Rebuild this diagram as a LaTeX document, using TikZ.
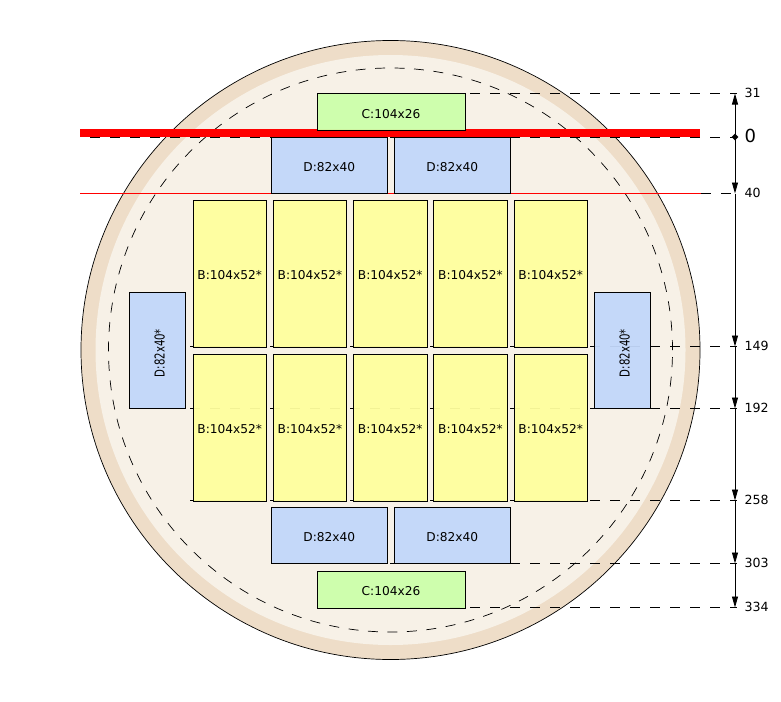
\documentclass[tikz,border=0pt]{standalone}
\usepackage{fontspec}
\setmainfont{DejaVu Sans}
\usetikzlibrary{positioning,arrows.meta,shapes.geometric}
\definecolor{rimtan}{HTML}{EEDDC8}
\definecolor{wafer}{HTML}{F7F1E7}
\definecolor{dblue}{HTML}{C2D7FA}
\definecolor{byellow}{HTML}{FFFF9E}
\definecolor{cgreen}{HTML}{CCFFAA}

\begin{document}
\begin{tikzpicture}[x=1pt,y=-1pt,node distance=6.75pt]
   \tikzset{chip/.style = {rectangle, draw=black, line width=.9pt, inner sep=0pt, outer sep=0pt, fill opacity=.95, text opacity=1, text height=12.8pt, text depth=0pt, font=\fontsize{12.2}{14}\selectfont}, }
   \tikzset{bchip/.style = {chip, fill=byellow, minimum width=73.5pt, minimum height=147pt}, }
   \tikzset{dchip/.style = {chip, fill=dblue, minimum width=116.5pt, minimum height=56pt}, }
   \tikzset{cchip/.style = {chip, fill=cgreen, minimum width=148pt, minimum height=37pt}, }
   \tikzset{schip/.style = {chip, fill=dblue, minimum width=56.5pt, minimum height=116pt, text height=54pt}, }
   \tikzset{disc/.style = {circle, inner sep=0pt, outer sep=0pt}, }
   \tikzset{level/.style = {draw=black, line width=.8pt, dash pattern=on 10pt off 10pt}, }
   \tikzset{dim/.style = {draw=black, line width=.9pt, -{Triangle[length=11pt,width=6pt]}}, }
   \tikzset{dimlabel/.style = {inner sep=0pt, right=9.5pt of #1, yshift=.7pt, font=\fontsize{12.6}{14}\selectfont}, }
   \useasboundingbox (0,0) rectangle (781,701);

   % wafer
   \node[disc, draw=black, line width=.7pt, fill=rimtan, minimum size=619pt] (rim) at (390.5,350) {};
   \node[disc, fill=wafer, minimum size=590pt] (inner) at (390.5,350) {};
   \node[disc, draw=black, line width=.7pt, dash pattern=on 10pt off 9.5pt, minimum size=564pt] (usable) at (390.5,350) {};

   % dimension ticks
   \coordinate (t31) at (735,93.5);
   \coordinate (t0) at (735,137);
   \coordinate (t40) at (735,193.5);
   \coordinate (t149) at (735,346.5);
   \coordinate (t192) at (735,408.5);
   \coordinate (t258) at (735,500.5);
   \coordinate (t303) at (735,563.5);
   \coordinate (t334) at (735,607.5);

   % free ends of the levels
   \coordinate (s31) at (390,93.5);
   \coordinate (s0) at (90,137);
   \coordinate (s40) at (701,193.5);
   \coordinate (s149) at (190,346.5);
   \coordinate (s192) at (190,408.5);
   \coordinate (s258) at (190,500.5);
   \coordinate (s303) at (390,563.5);
   \coordinate (s334) at (390,607.5);
   \coordinate (e31) at (737,93.5);
   \coordinate (e0) at (737,137);
   \coordinate (e40) at (737,193.5);
   \coordinate (e149) at (737,346.5);
   \coordinate (e192) at (737,408.5);
   \coordinate (e258) at (737,500.5);
   \coordinate (e303) at (737,563.5);
   \coordinate (e334) at (737,607.5);
   \foreach \l in {31,0,40,149,192,258,303,334}
     \draw[level] (s\l) -- (e\l);

   % cut lines
   \coordinate (cutAw) at (80,133);
   \coordinate (cutAe) at (700,133);
   \coordinate (cutBw) at (80,193.5);
   \coordinate (cutBe) at (701,193.5);
   \draw[color=red, line width=8pt] (cutAw) -- (cutAe);
   \draw[color=red, line width=.7pt] (cutBw) -- (cutBe);

   % chips
   \node[cchip] (c1) at (391,112) {C:104x26};
   \node[dchip] (d1) at (329.25,165) {D:82x40};
   \node[dchip, right =6.5pt of d1] (d2) {D:82x40};
   \node[bchip] (b1) at (229.75,273.5) {B:104x52*};
   \foreach \i/\j in {1/2,2/3,3/4,4/5}
     \node[bchip, right =of b\i] (b\j) {B:104x52*};
   \node[bchip] (b6) at (229.75,427.5) {B:104x52*};
   \foreach \i/\j in {6/7,7/8,8/9,9/10}
     \node[bchip, right =of b\i] (b\j) {B:104x52*};
   \node[dchip] (d3) at (329.25,535) {D:82x40};
   \node[dchip, right =6.5pt of d3] (d4) {D:82x40};
   \node[cchip] (c2) at (391,589.5) {C:104x26};
   \node[schip] (s1) at (157.25,350) {\hspace{5pt}\rotatebox{90}{\scalebox{.83}[1.12]{D:82x40*}}};
   \node[schip] (s2) at (622.25,350) {\hspace{5pt}\rotatebox{90}{\scalebox{.83}[1.12]{D:82x40*}}};

   % dimension line
   \node[diamond, fill=black, inner sep=0pt, minimum size=7pt] (t0dot) at (t0) {};
   \draw[dim] (t0) -- (t31);
   \draw[dim] (t0) -- (t40);
   \draw[dim] (t40) -- (t149);
   \draw[dim] (t149) -- (t192);
   \draw[dim] (t192) -- (t258);
   \draw[dim] (t258) -- (t303);
   \draw[dim] (t303) -- (t334);

   \node[dimlabel=t31] (l31) {31};
   \node[dimlabel=t0, font=\fontsize{18}{20}\selectfont] (l0) {0};
   \node[dimlabel=t40] (l40) {40};
   \node[dimlabel=t149] (l149) {149};
   \node[dimlabel=t192] (l192) {192};
   \node[dimlabel=t258] (l258) {258};
   \node[dimlabel=t303] (l303) {303};
   \node[dimlabel=t334] (l334) {334};
\end{tikzpicture}
\end{document}
